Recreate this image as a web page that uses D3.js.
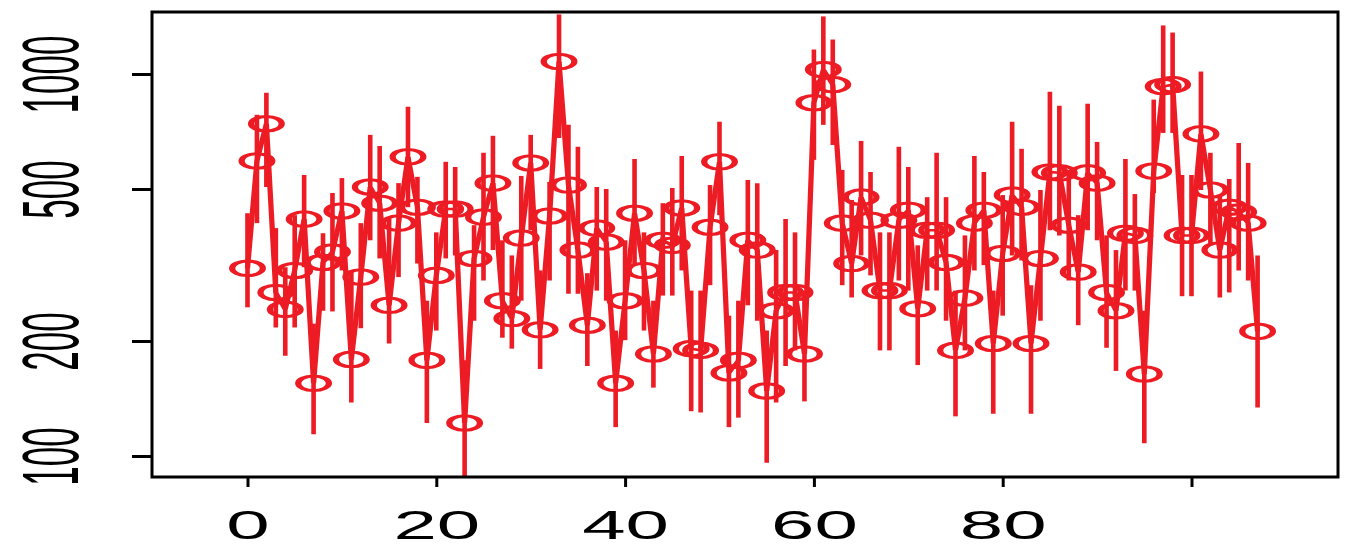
<!DOCTYPE html>
<html>
<head>
<meta charset="utf-8">
<script src="https://cdn.jsdelivr.net/npm/d3@7"></script>
<style>
  body { margin: 0; background: #ffffff; }
  svg { display: block; }
</style>
</head>
<body>
<svg id="chart" width="1355" height="548"></svg>
<script>
// ---- data (x is the position in the arrays: 0..107) ----
const centerValues = [
  310, 592, 741, 268, 242, 306, 417, 155, 321, 342,
  438, 179, 294, 506, 459, 248, 407, 607, 448, 178,
  297, 443, 443, 122, 329, 422, 518, 255, 229, 372,
  585, 214, 425, 1078, 512, 346, 220, 395, 363, 155,
  255, 432, 306, 185, 367, 356, 446, 191, 189, 397,
  589, 165, 178, 367, 346, 148, 240, 268, 268, 185,
  841, 1027, 938, 407, 319, 476, 414, 271, 271, 414,
  440, 243, 390, 390, 321, 189, 259, 407, 440, 197,
  339, 482, 448, 197, 329, 554, 551, 402, 303, 551,
  518, 268, 240, 383, 378, 164, 557, 927, 938, 378,
  378, 697, 497, 346, 448, 435, 407, 212
];
const upperValues = [
  432, 782, 893, 395, 312, 427, 544, 222, 383, 488,
  534, 306, 407, 693, 648, 422, 518, 821, 538, 255,
  385, 589, 571, 178, 402, 622, 689, 367, 335, 541,
  693, 306, 522, 1432, 736, 645, 301, 506, 500, 213,
  367, 599, 385, 255, 459, 503, 610, 271, 271, 512,
  750, 233, 255, 528, 518, 213, 346, 417, 385, 271,
  1159, 1415, 1231, 561, 468, 668, 554, 385, 385, 645,
  571, 356, 476, 622, 476, 271, 378, 610, 554, 271,
  482, 750, 637, 280, 497, 899, 826, 561, 427, 836,
  664, 378, 346, 599, 485, 240, 857, 1340, 1284, 544,
  544, 1015, 622, 482, 531, 660, 585, 335
];
const lowerValues = [
  245, 407, 506, 217, 183, 217, 312, 114, 240, 239,
  306, 138, 216, 367, 329, 197, 294, 448, 319, 122,
  213, 329, 335, 81, 226, 288, 346, 204, 191, 255,
  390, 169, 288, 680, 266, 266, 172, 271, 255, 119,
  201, 316, 213, 151, 263, 263, 306, 131, 130, 280,
  427, 119, 126, 248, 226, 96, 138, 172, 189, 139,
  596, 736, 652, 280, 260, 335, 297, 189, 189, 288,
  271, 173, 271, 271, 226, 127, 189, 306, 316, 129,
  233, 335, 325, 129, 226, 390, 378, 288, 220, 390,
  367, 192, 167, 271, 271, 108, 488, 701, 701, 262,
  262, 497, 356, 260, 268, 306, 288, 134
];
const xTickValues = [0, 20, 40, 60, 80, 100];
const xTickLabels = ["0", "20", "40", "60", "80", ""];
const yTickValues = [100, 200, 500, 1000];
const yTickLabels = ["100", "200", "500", "1000"];

// ---- layout ----
const box = { left: 152, right: 1338, top: 12, bottom: 477 };
const SX = 2.1;            // horizontal stretch of the plotted marks
const RED = "#ed1c24";

const svg = d3.select("#chart");

// scales in final pixel space
const x = d3.scaleLinear().domain([0, 100]).range([247.5, 1191.5]);
const y = d3.scaleLog().domain([100, 1000]).range([456, 74]);
// x scale in the unstretched space used for the marks
const xu = d3.scaleLinear().domain([0, 100]).range([247.5 / SX, 1191.5 / SX]);

const points = centerValues.map((v, i) => ({ i, v, lo: lowerValues[i], hi: upperValues[i] }));

// ---- marks (drawn unstretched, then scaled horizontally) ----
const defs = svg.append("defs");
defs.append("clipPath").attr("id", "plotClip")
  .append("rect")
  .attr("x", box.left / SX).attr("y", box.top)
  .attr("width", (box.right - box.left) / SX).attr("height", box.bottom - box.top);

const stretched = svg.append("g").attr("transform", `scale(${SX},1)`);
const plot = stretched.append("g").attr("clip-path", "url(#plotClip)");

// connecting line
plot.append("path")
  .datum(points)
  .attr("fill", "none")
  .attr("stroke", RED)
  .attr("stroke-width", 2.5)
  .attr("stroke-linejoin", "miter")
  .attr("d", d3.line().x(d => xu(d.i)).y(d => y(d.v)));

// error bars
plot.selectAll("line.err")
  .data(points)
  .join("line")
  .attr("class", "err")
  .attr("x1", d => xu(d.i)).attr("x2", d => xu(d.i))
  .attr("y1", d => y(d.lo)).attr("y2", d => y(d.hi))
  .attr("stroke", RED)
  .attr("stroke-width", 2.2);

// open circles
plot.selectAll("circle.pt")
  .data(points)
  .join("circle")
  .attr("class", "pt")
  .attr("cx", d => xu(d.i))
  .attr("cy", d => y(d.v))
  .attr("r", 7.3)
  .attr("fill", "none")
  .attr("stroke", RED)
  .attr("stroke-width", 3);

// ---- axes ----
const fontFam = "'Liberation Sans', Arial, Helvetica, sans-serif";

const xAxis = svg.append("g")
  .attr("transform", `translate(0,${box.bottom})`)
  .call(d3.axisBottom(x).tickValues(xTickValues).tickSize(10)
    .tickFormat((d, i) => xTickLabels[i]));
xAxis.select(".domain").remove();
xAxis.selectAll(".tick line").attr("stroke", "#000").attr("stroke-width", 3);
xAxis.selectAll(".tick text")
  .attr("y", null).attr("dy", null)
  .attr("fill", "#000")
  .attr("font-family", fontFam)
  .attr("font-size", 40)
  .attr("text-anchor", "middle")
  .attr("transform", "translate(0,62) scale(1.95,1)");

const yAxis = svg.append("g")
  .attr("transform", `translate(${box.left},0)`)
  .call(d3.axisLeft(y).tickValues(yTickValues).tickSize(20)
    .tickFormat((d, i) => yTickLabels[i]));
yAxis.select(".domain").remove();
yAxis.selectAll(".tick line").attr("stroke", "#000").attr("stroke-width", 3);
yAxis.selectAll(".tick text")
  .attr("x", null).attr("dy", null)
  .attr("fill", "#000")
  .attr("font-family", fontFam)
  .attr("font-size", 35)
  .attr("text-anchor", "middle")
  .attr("transform", "translate(-74,0) scale(2.3,1) rotate(-90)");

// plot box
svg.append("rect")
  .attr("x", box.left).attr("y", box.top)
  .attr("width", box.right - box.left).attr("height", box.bottom - box.top)
  .attr("fill", "none").attr("stroke", "#000").attr("stroke-width", 3);
</script>
</body>
</html>
